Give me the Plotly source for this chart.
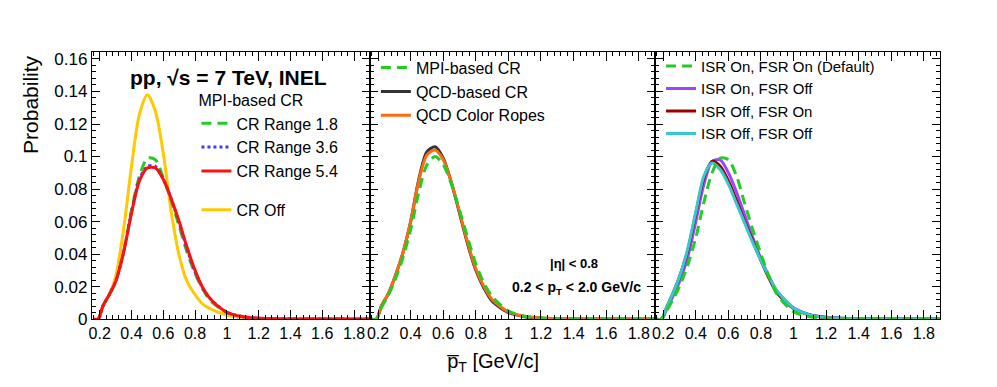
import plotly.graph_objects as go

# mean pT grid (GeV/c) shared by all curves
pt = [0.16, 0.19, 0.22, 0.26, 0.3, 0.35, 0.4, 0.45, 0.5, 0.55, 0.6, 0.65, 0.7,
      0.75, 0.8, 0.85, 0.9, 1.0, 1.1, 1.2, 1.4, 1.6, 1.9]

# panel 1: MPI-based CR ranges and CR off
cr_range_18 = [0, 0, 0.008, 0.015, 0.023, 0.041, 0.067, 0.088, 0.099, 0.098, 0.087, 0.073, 0.057,
               0.041, 0.028, 0.018, 0.011, 0.004, 0.0015, 0.0006, 0.0001, 0.00003, 0]
cr_range_36 = [0, 0, 0.008, 0.015, 0.023, 0.041, 0.066, 0.086, 0.094, 0.094, 0.086, 0.074, 0.059,
               0.043, 0.029, 0.019, 0.012, 0.0042, 0.0015, 0.0006, 0.0001, 0.00003, 0]
cr_range_54 = [0, 0, 0.008, 0.015, 0.023, 0.041, 0.065, 0.085, 0.093, 0.093, 0.086, 0.074, 0.06,
               0.044, 0.03, 0.019, 0.012, 0.0042, 0.0015, 0.0006, 0.0001, 0.00003, 0]
cr_off = [0, 0, 0.008, 0.015, 0.026, 0.055, 0.094, 0.126, 0.138, 0.128, 0.102, 0.066, 0.039,
          0.023, 0.015, 0.009, 0.0062, 0.0025, 0.0009, 0.0003, 0.00005, 0, 0]

# panel 2: CR models
mpi_cr = [0, 0, 0.007, 0.014, 0.023, 0.037, 0.055, 0.078, 0.095, 0.1, 0.095, 0.083, 0.067,
          0.05, 0.034, 0.022, 0.014, 0.005, 0.0018, 0.0007, 0.0001, 0.00003, 0]
qcd_cr = [0, 0, 0.008, 0.015, 0.025, 0.04, 0.06, 0.086, 0.103, 0.106, 0.099, 0.084, 0.065,
          0.046, 0.03, 0.019, 0.011, 0.004, 0.0015, 0.0006, 0.0001, 0.00003, 0]
qcd_ropes = [0, 0, 0.008, 0.015, 0.025, 0.04, 0.06, 0.085, 0.101, 0.104, 0.098, 0.084, 0.066,
             0.047, 0.031, 0.02, 0.012, 0.0045, 0.0017, 0.0007, 0.0001, 0.00003, 0]

# panel 3: ISR / FSR switches
isr_on_fsr_on = [0, 0, 0.005, 0.012, 0.02, 0.033, 0.05, 0.072, 0.09, 0.099, 0.098, 0.088, 0.071,
                 0.055, 0.04, 0.026, 0.015, 0.0045, 0.0015, 0.0006, 0.0001, 0.00003, 0]
isr_on_fsr_off = [0, 0, 0.006, 0.014, 0.023, 0.038, 0.06, 0.083, 0.097, 0.098, 0.09, 0.078, 0.064,
                  0.05, 0.037, 0.026, 0.017, 0.007, 0.0027, 0.0011, 0.0002, 0.00005, 0]
isr_off_fsr_on = [0, 0, 0.007, 0.016, 0.026, 0.042, 0.065, 0.087, 0.097, 0.094, 0.085, 0.073, 0.06,
                  0.048, 0.036, 0.025, 0.016, 0.0065, 0.0025, 0.001, 0.0002, 0.00005, 0]
isr_off_fsr_off = [0, 0, 0.007, 0.016, 0.026, 0.043, 0.066, 0.088, 0.096, 0.092, 0.083, 0.071, 0.059,
                   0.047, 0.036, 0.026, 0.017, 0.0068, 0.0026, 0.001, 0.0002, 0.00005, 0]

x_tickvals = [0.2, 0.4, 0.6, 0.8, 1.0, 1.2, 1.4, 1.6, 1.8]
x_ticktext = ['0.2', '0.4', '0.6', '0.8', '1', '1.2', '1.4', '1.6', '1.8']
y_tickvals = [0, 0.02, 0.04, 0.06, 0.08, 0.1, 0.12, 0.14, 0.16]
y_ticktext = ['0', '0.02', '0.04', '0.06', '0.08', '0.1', '0.12', '0.14', '0.16']

W, H = 997, 387
FONT = 'Liberation Sans, Arial, sans-serif'
DASH = '10px,6px'

fig = go.Figure()


def add_curve(y, name, color, panel, legend, rank, dash='solid', group=None):
    sfx = '' if panel == 1 else str(panel)
    fig.add_trace(go.Scatter(
        x=pt, y=y, name=name, mode='lines',
        line=dict(color=color, width=3, dash=dash, shape='spline', smoothing=0.8),
        xaxis='x' + sfx, yaxis='y' + sfx, legend=legend, legendrank=rank,
        legendgroup=group, hoverinfo='skip'))


# yellow first so the CR range curves sit on top of it
add_curve(cr_off, 'CR Off', '#ffc800', 1, 'legend', 4, group='off')
add_curve(cr_range_18, 'CR Range 1.8', '#22cc22', 1, 'legend', 1, dash=DASH, group='mpi')
add_curve(cr_range_36, 'CR Range 3.6', '#3b3bff', 1, 'legend', 2, dash='dot', group='mpi')
add_curve(cr_range_54, 'CR Range 5.4', '#ff1010', 1, 'legend', 3, group='mpi')

add_curve(qcd_cr, 'QCD-based CR', '#333333', 2, 'legend2', 2)
add_curve(qcd_ropes, 'QCD Color Ropes', '#ff6a10', 2, 'legend2', 3)
add_curve(mpi_cr, 'MPI-based CR', '#22cc22', 2, 'legend2', 1, dash=DASH)

add_curve(isr_on_fsr_off, 'ISR On, FSR Off', '#9b45ff', 3, 'legend3', 2)
add_curve(isr_off_fsr_on, 'ISR Off, FSR On', '#990000', 3, 'legend3', 3)
add_curve(isr_off_fsr_off, 'ISR Off, FSR Off', '#35c8cc', 3, 'legend3', 4)
add_curve(isr_on_fsr_on, 'ISR On, FSR On (Default)', '#22cc22', 3, 'legend3', 1, dash=DASH)

# frame boxes in pixels -> paper fractions
x_edges = [81, 360, 646, 932]
y_dom = [(H - 319) / H, (H - 43) / H]

axis_common = dict(showline=True, linecolor='black', linewidth=1, mirror='allticks',
                   ticks='inside', tickcolor='black', showgrid=False, zeroline=False)

layout = dict(width=W, height=H, margin=dict(l=0, r=0, t=0, b=0),
              paper_bgcolor='white', plot_bgcolor='white',
              font=dict(family=FONT, color='black'))

for i in range(3):
    sfx = '' if i == 0 else str(i + 1)
    layout['xaxis' + sfx] = dict(
        axis_common, domain=[x_edges[i] / W, x_edges[i + 1] / W], range=[0.15, 1.9],
        anchor='y' + sfx, tickmode='array', tickvals=x_tickvals, ticktext=x_ticktext,
        ticklen=9, tickfont=dict(size=16),
        minor=dict(ticks='inside', ticklen=4, tickcolor='black', dtick=0.04, tick0=0.2))
    layout['yaxis' + sfx] = dict(
        axis_common, domain=y_dom, range=[0, 0.1645], anchor='x' + sfx,
        tickmode='array', tickvals=y_tickvals, ticktext=y_ticktext,
        ticklen=8, tickfont=dict(size=17), showticklabels=(i == 0),
        minor=dict(ticks='inside', ticklen=4, tickcolor='black', dtick=0.004, tick0=0))

leg_common = dict(bgcolor='rgba(0,0,0,0)', borderwidth=0, font=dict(size=16, family=FONT),
                  xanchor='left', yanchor='top', itemwidth=30, traceorder='normal')
layout['legend'] = dict(leg_common, x=186 / W, y=(H - 78) / H, traceorder='grouped',
                        tracegroupgap=15,
                        title=dict(text='MPI-based CR', font=dict(size=16, family=FONT)))
layout['legend2'] = dict(leg_common, x=366 / W, y=(H - 42) / H)
layout['legend3'] = dict(leg_common, x=652 / W, y=(H - 41) / H, font=dict(size=15, family=FONT))

fig.update_layout(**layout)


def label(text, x, y, size, angle=0):
    fig.add_annotation(text=text, x=x / W, y=(H - y) / H, xref='paper', yref='paper',
                       xanchor='center', yanchor='middle', showarrow=False,
                       textangle=angle, font=dict(size=size))


label('<b>pp, √s = 7 TeV, INEL</b>', 218, 70, 21)
label('<b>|η| &lt; 0.8</b>', 565, 262, 13)
label('<b>0.2 &lt; p<sub>T</sub> &lt; 2.0 GeV/c</b>', 567, 287, 14)
label('Probability', 20, 97, 21, angle=-90)
label('p\u0305<sub>T</sub> [GeV/c]', 483, 364, 20)

fig.write_html('out.html')
